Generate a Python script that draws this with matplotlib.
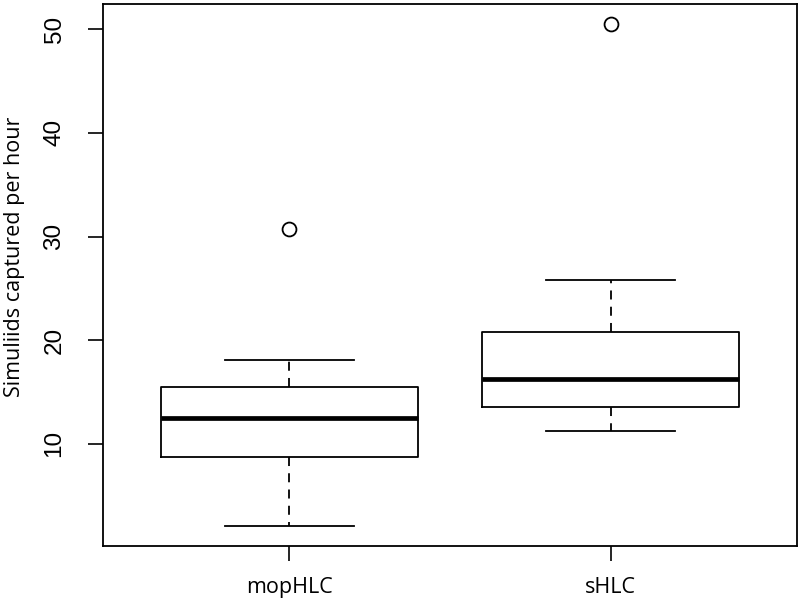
import matplotlib
matplotlib.use("Agg")
import matplotlib.pyplot as plt

categories = ["mopHLC", "sHLC"]
whislo = [2.08, 11.28]
q1 = [8.77, 13.6]
med = [12.54, 16.28]
q3 = [15.5, 20.82]
whishi = [18.05, 25.78]
outliers = [[30.74], [50.5]]
yticks = [10, 20, 30, 40, 50]

stats = []
for i, c in enumerate(categories):
    stats.append(dict(label=c, whislo=whislo[i], q1=q1[i], med=med[i],
                      q3=q3[i], whishi=whishi[i], fliers=outliers[i]))

fig = plt.figure(figsize=(8.0, 6.02), dpi=100)
ax = fig.add_axes([103/800, 1-546/602, (797-103)/800, (546-4)/602])

ax.bxp(stats, positions=[1, 2], widths=0.8, showfliers=True,
       boxprops=dict(color="black", linewidth=1.3),
       medianprops=dict(color="black", linewidth=3.4, solid_capstyle="butt"),
       whiskerprops=dict(color="black", linewidth=1.3, linestyle=(0, (5, 4))),
       capprops=dict(color="black", linewidth=1.3),
       capwidths=0.4,
       flierprops=dict(marker="o", markerfacecolor="none", markeredgecolor="black",
                       markersize=10, markeredgewidth=1.3))

allv = whislo + whishi + [v for o in outliers for v in o]
lo, hi = min(allv), max(allv)
pad = 0.04 * (hi - lo)
ax.set_ylim(lo - pad, hi + pad)
ax.set_xlim(0.42, 2.58)

ax.set_yticks(yticks)
ax.set_yticklabels([str(t) for t in yticks], rotation=90, va="center",
                   fontfamily=["Liberation Sans", "DejaVu Sans"], fontsize=17.5)
ax.set_xticks([1, 2])
ax.set_xticklabels(categories, fontfamily="Open Sans", fontsize=15.5)
ax.tick_params(axis="both", length=11, width=1.2, color="black")
ax.tick_params(axis="y", pad=16)
ax.tick_params(axis="x", pad=11)

for s in ax.spines.values():
    s.set_linewidth(1.3)
    s.set_color("black")

fig.text(15/800, 1-257/602, "Simuliids captured per hour", rotation=90,
         ha="center", va="center", fontfamily="Open Sans", fontsize=15.5)

fig.savefig("out.png", dpi=100)
